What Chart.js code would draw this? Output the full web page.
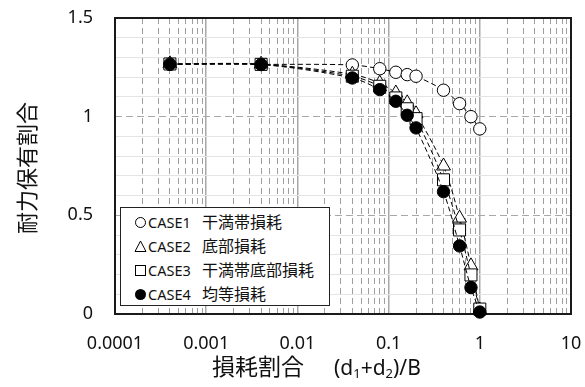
<!DOCTYPE html>
<html><head><meta charset="utf-8">
<script src="https://cdn.jsdelivr.net/npm/chart.js@4.4.0/dist/chart.umd.min.js"></script>
<style>
html,body{margin:0;padding:0;background:#fff;}
#wrap{position:relative;width:585px;height:387px;overflow:hidden;background:#fff;}
#c{position:absolute;left:0;top:0;}
.ytitle{position:absolute;left:25px;top:168px;transform:translate(-50%,-50%) rotate(-90deg);font-family:"Noto Sans CJK JP";font-size:22px;white-space:nowrap;color:#111;line-height:1;}
.xtitle{position:absolute;left:212px;top:354px;white-space:nowrap;color:#111;line-height:1;}
.xtitle .jp{font-family:"Noto Sans CJK JP";font-size:23px;}
.xtitle .lat{font-family:"Noto Sans";font-size:21px;margin-left:30px;}
.xtitle sub{font-size:0.62em;vertical-align:-0.25em;line-height:1;}
.legend{position:absolute;left:120px;top:207px;width:210px;height:99px;border:1px solid #222;background:#fff;box-sizing:border-box;}
.row{position:absolute;left:0;height:24px;width:208px;}
.row svg{position:absolute;left:13px;top:6px;}
.row .cs{position:absolute;left:27px;top:2px;font-family:"Noto Sans";font-size:14.5px;color:#111;line-height:20px;}
.row .jd{position:absolute;left:81px;top:1px;font-family:"Noto Sans CJK JP";font-size:16px;color:#111;line-height:20px;}
</style>
</head><body>
<div id="wrap">
<canvas id="c" width="585" height="387"></canvas>
<div class="ytitle">耐力保有割合</div>
<div class="xtitle"><span class="jp">損耗割合</span><span class="lat">(d<sub>1</sub>+d<sub>2</sub>)/B</span></div>
<div class="legend" id="legend"></div>
</div>
<script>
// ---- data ----
const xValues = [0.0004, 0.004, 0.04, 0.08, 0.12, 0.16, 0.2, 0.4, 0.6, 0.8, 1.0];
const case1 = [1.265, 1.265, 1.262, 1.243, 1.225, 1.213, 1.205, 1.134, 1.066, 1.0, 0.938];
const case2 = [1.268, 1.266, 1.215, 1.170, 1.120, 1.070, 1.015, 0.750, 0.486, 0.244, 0.02];
const case3 = [1.267, 1.265, 1.205, 1.154, 1.095, 1.040, 0.990, 0.680, 0.426, 0.198, 0.025];
const case4 = [1.266, 1.264, 1.196, 1.137, 1.078, 1.007, 0.943, 0.620, 0.345, 0.134, 0.01];
const seriesNames = ['CASE1', 'CASE2', 'CASE3', 'CASE4'];
const seriesDesc = ['干満帯損耗', '底部損耗', '干満帯底部損耗', '均等損耗'];
const xTickLabels = ['0.0001', '0.001', '0.01', '0.1', '1', '10'];
const yTickLabels = ['0', '0.5', '1', '1.5'];

// ---- legend (HTML) ----
const legendSvgs = [
  '<svg width="13" height="13"><circle cx="6.5" cy="6.5" r="5" fill="#fff" stroke="#000" stroke-width="1"/></svg>',
  '<svg width="13" height="13"><polygon points="6.5,1 12,11.5 1,11.5" fill="#fff" stroke="#000" stroke-width="1"/></svg>',
  '<svg width="13" height="13"><rect x="1.5" y="1.5" width="10" height="10" fill="#fff" stroke="#000" stroke-width="1"/></svg>',
  '<svg width="13" height="13"><circle cx="6.5" cy="6.5" r="5.5" fill="#000"/></svg>'
];
const lg = document.getElementById('legend');
seriesNames.forEach((n, i) => {
  const r = document.createElement('div');
  r.className = 'row';
  r.style.top = (2 + i * 24) + 'px';
  r.innerHTML = legendSvgs[i] + '<span class="cs">' + n + '</span><span class="jd">' + seriesDesc[i] + '</span>';
  lg.appendChild(r);
});

// ---- chart ----
const isDecade = v => { const l = Math.log10(v); return Math.abs(l - Math.round(l)) < 1e-9; };
function mk(arr) { return xValues.map((x, i) => ({ x: x, y: arr[i] })); }
const common = { showLine: true, borderColor: '#000', borderWidth: 1, borderDash: [5, 3], tension: 0.3, fill: false, clip: false, pointBorderColor: '#000', pointBorderWidth: 1, pointHoverRadius: 0 };
const datasets = [
  Object.assign({}, common, { label: seriesNames[0], data: mk(case1), pointStyle: 'circle', pointRadius: 6.2, pointBackgroundColor: '#fff', order: 4 }),
  Object.assign({}, common, { label: seriesNames[1], data: mk(case2), pointStyle: 'triangle', pointRadius: 8, pointBackgroundColor: '#fff', order: 3 }),
  Object.assign({}, common, { label: seriesNames[2], data: mk(case3), pointStyle: 'rect', pointRadius: 8.5, pointBackgroundColor: '#fff', order: 2 }),
  Object.assign({}, common, { label: seriesNames[3], data: mk(case4), pointStyle: 'circle', pointRadius: 6.2, pointBackgroundColor: '#000', order: 1 })
];

const framePlugin = {
  id: 'frame',
  beforeDatasetsDraw(chart) {
    const a = chart.chartArea, ctx = chart.ctx;
    ctx.save();
    ctx.strokeStyle = '#1a1a1a';
    ctx.lineWidth = 2;
    ctx.strokeRect(a.left, a.top, a.right - a.left, a.bottom - a.top);
    ctx.restore();
  }
};

new Chart(document.getElementById('c'), {
  type: 'scatter',
  data: { datasets: datasets },
  plugins: [framePlugin],
  options: {
    responsive: false,
    animation: false,
    devicePixelRatio: 1,
    layout: { padding: { top: 18, right: 14, left: 0, bottom: 0 } },
    plugins: { legend: { display: false }, tooltip: { enabled: false } },
    scales: {
      x: {
        type: 'logarithmic',
        min: 0.0001, max: 10,
        afterBuildTicks(scale) {
          const t = [];
          for (let e = -4; e <= 0; e++) {
            for (let k = 1; k <= 9; k++) t.push({ value: parseFloat((k * Math.pow(10, e)).toPrecision(8)) });
          }
          t.push({ value: 10 });
          scale.ticks = t;
        },
        afterFit(scale) { scale.height = 73; scale.paddingLeft = 0; scale.paddingRight = 0; },
        border: { display: false, dash: ctx => (ctx.tick && !isDecade(ctx.tick.value)) ? [6, 4] : [] },
        grid: {
          drawTicks: false,
          color: ctx => (ctx.tick && isDecade(ctx.tick.value)) ? '#a8a8a8' : '#9e9e9e',
          lineWidth: ctx => (ctx.tick && isDecade(ctx.tick.value)) ? 1.5 : 1
        },
        ticks: {
          autoSkip: false, maxRotation: 0, minRotation: 0, padding: 19,
          color: '#111',
          font: { family: 'Noto Sans', size: 18 },
          callback: function (value) {
            if (!isDecade(value)) return '';
            return xTickLabels[Math.round(Math.log10(value)) + 4];
          }
        }
      },
      y: {
        type: 'linear',
        min: 0, max: 1.5,
        afterBuildTicks(scale) {
          const t = [];
          for (let i = 0; i <= 15; i++) t.push({ value: i / 10 });
          scale.ticks = t;
        },
        afterFit(scale) { scale.width = 115; scale.paddingTop = 0; scale.paddingBottom = 0; },
        border: { display: false, dash: ctx => (ctx.tick && ctx.index % 5 === 0) ? [7, 4] : [] },
        grid: {
          drawTicks: false,
          color: ctx => (ctx.tick && ctx.index % 5 === 0) ? '#a8a8a8' : '#e4e4e4',
          lineWidth: 1
        },
        ticks: {
          autoSkip: false, padding: 22,
          color: '#111',
          font: { family: 'Noto Sans', size: 18 },
          callback: function (value, index) {
            return (index % 5 === 0) ? yTickLabels[index / 5] : '';
          }
        }
      }
    }
  }
});
</script>
</body></html>
